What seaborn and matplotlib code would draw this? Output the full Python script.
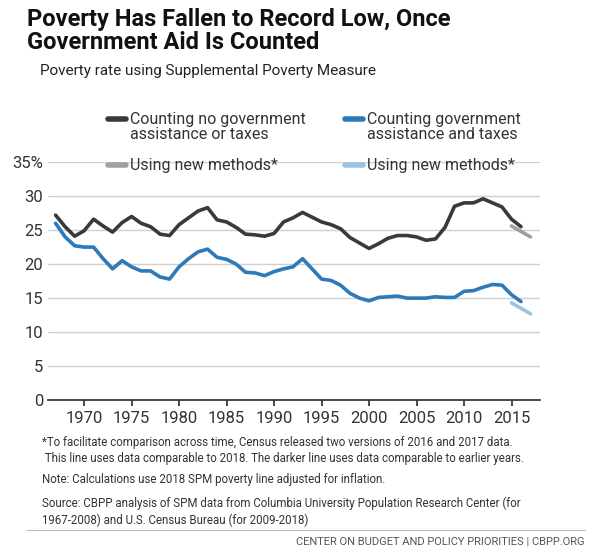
import numpy as np
import pandas as pd
import seaborn as sns
import matplotlib.pyplot as plt
from matplotlib.lines import Line2D

sns.set_theme(style="white")
plt.rcParams["font.family"] = ["Roboto", "DejaVu Sans"]

# Datos
years = list(range(1967, 2017))
no_aid = [27.2, 25.5, 24.1, 24.9, 26.6, 25.6, 24.7, 26.1, 27.0, 26.0,
          25.5, 24.4, 24.2, 25.8, 26.8, 27.8, 28.3, 26.5, 26.2, 25.4,
          24.4, 24.3, 24.1, 24.5, 26.2, 26.8, 27.6, 26.9, 26.2, 25.8,
          25.2, 23.9, 23.1, 22.3, 23.0, 23.8, 24.2, 24.2, 24.0, 23.5,
          23.7, 25.4, 28.5, 29.0, 29.0, 29.6, 29.0, 28.4, 26.6, 25.5]
with_aid = [26.0, 24.0, 22.7, 22.5, 22.5, 20.8, 19.3, 20.5, 19.6, 19.0,
            19.0, 18.1, 17.8, 19.6, 20.8, 21.8, 22.2, 21.0, 20.7, 20.0,
            18.8, 18.7, 18.3, 18.9, 19.3, 19.6, 20.8, 19.3, 17.8, 17.6,
            16.9, 15.7, 15.0, 14.6, 15.1, 15.2, 15.3, 15.0, 15.0, 15.0,
            15.2, 15.1, 15.1, 16.0, 16.1, 16.6, 17.0, 16.9, 15.5, 14.5]
new_years = [2015, 2016, 2017]
no_aid_new = [25.6, 24.8, 24.0]
with_aid_new = [14.3, 13.5, 12.7]

c_dark, c_gray = "#3a3a3a", "#a0a0a0"
c_blue, c_lblue = "#2e7ab8", "#9cc3e0"

fig = plt.figure(figsize=(6, 5.55), dpi=100)
ax = fig.add_axes([0.08, 0.279, 0.82, 0.429])

sns.lineplot(x=new_years, y=no_aid_new, ax=ax, color=c_gray, lw=2.6)
sns.lineplot(x=new_years, y=with_aid_new, ax=ax, color=c_lblue, lw=2.6)
sns.lineplot(x=years, y=no_aid, ax=ax, color=c_dark, lw=2.6)
sns.lineplot(x=years, y=with_aid, ax=ax, color=c_blue, lw=2.6)

ax.set_xlim(1966.2, 2018)
ax.set_ylim(0, 35)
ax.set_yticks(range(0, 36, 5))
ax.set_yticklabels(["0", "5", "10", "15", "20", "25", "30", "35%"])
ax.set_xticks(range(1970, 2016, 5))
ax.yaxis.grid(True, color="#d0d0d0", lw=1)
for s in ["top", "right", "left"]:
    ax.spines[s].set_visible(False)
ax.spines["bottom"].set_color("#333333")
ax.tick_params(axis="x", length=4, color="#333333", direction="out", bottom=True, labelsize=12, colors="#333333")
ax.tick_params(axis="y", length=0, labelsize=12, colors="#333333")
ax.set_xlabel("")
ax.set_ylabel("")

fig.text(0.045, 0.985, "Poverty Has Fallen to Record Low, Once\nGovernment Aid Is Counted",
         fontsize=17, fontweight="bold", va="top", color="#111111", linespacing=1.0)
fig.text(0.067, 0.885, "Poverty rate using Supplemental Poverty Measure",
         fontsize=11, va="top", color="#222222")

# leyenda manual
def leg(x, y, color, text):
    fig.add_artist(Line2D([x, x + 0.03], [y, y], color=color, lw=4, transform=fig.transFigure))
    fig.text(x + 0.037, y + 0.013, text, fontsize=11.5, va="top", color="#333333", linespacing=1.0)

leg(0.18, 0.785, c_dark, "Counting no government\nassistance or taxes")
leg(0.575, 0.785, c_blue, "Counting government\nassistance and taxes")
leg(0.18, 0.703, c_gray, "Using new methods*")
leg(0.575, 0.703, c_lblue, "Using new methods*")

fig.text(0.07, 0.215,
         "*To facilitate comparison across time, Census released two versions of 2016 and 2017 data.\n"
         " This line uses data comparable to 2018. The darker line uses data comparable to earlier years.",
         fontsize=8.3, va="top", color="#333333", linespacing=1.3)
fig.text(0.07, 0.148, "Note: Calculations use 2018 SPM poverty line adjusted for inflation.",
         fontsize=8.3, va="top", color="#333333")
fig.text(0.07, 0.105,
         "Source: CBPP analysis of SPM data from Columbia University Population Research Center (for\n"
         "1967-2008) and U.S. Census Bureau (for 2009-2018)",
         fontsize=8.3, va="top", color="#333333", linespacing=1.3)
fig.add_artist(Line2D([0.045, 0.975], [0.045, 0.045], color="#bbbbbb", lw=0.8, transform=fig.transFigure))
fig.text(0.975, 0.015, "CENTER ON BUDGET AND POLICY PRIORITIES | CBPP.ORG",
         fontsize=8, ha="right", va="bottom", color="#555555")

fig.savefig("out.png", dpi=100, facecolor="white")
